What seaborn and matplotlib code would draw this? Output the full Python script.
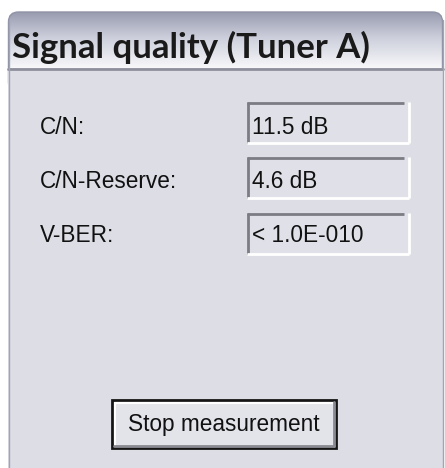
import matplotlib
matplotlib.use("Agg")
import matplotlib.pyplot as plt
import numpy as np
import seaborn as sns
from matplotlib.patches import Rectangle, FancyBboxPatch

sns.set_theme(style="white")
plt.rcParams['font.family'] = ['Liberation Sans', 'DejaVu Sans']

title = "Signal quality (Tuner A)"
labels = ["C/N:", "C/N-Reserve:", "V-BER:"]
values = ["11.5 dB", "4.6 dB", "< 1.0E-010"]
button_text = "Stop measurement"

W, H = 445, 468
fig = plt.figure(figsize=(W / 100, H / 100), dpi=100)
ax = fig.add_axes([0, 0, 1, 1])
ax.set_xlim(0, W)
ax.set_ylim(H, 0)
ax.axis("off")
fig.patch.set_facecolor("white")

body = "#dcdde5"

# title band with gradient, rounded top
grad = np.linspace(0, 1, 60)[:, None]
c_top = np.array([0.60, 0.61, 0.69])
c_mid = np.array([0.80, 0.81, 0.86])
c_bot = np.array([0.97, 0.97, 0.98])
cols = np.where(grad[..., None] < 0.45,
                c_top + (c_mid - c_top) * (grad[..., None] / 0.45),
                c_mid + (c_bot - c_mid) * ((grad[..., None] - 0.45) / 0.55))
cols = np.repeat(cols, 2, axis=1)
im = ax.imshow(cols, extent=(8.5, 442.5, 68, 12), aspect="auto", zorder=1, interpolation="bilinear")
clip = FancyBboxPatch((8.5, 12), 434, 80, boxstyle="round,pad=0,rounding_size=10",
                      transform=ax.transData, facecolor="none", edgecolor="none")
ax.add_patch(clip)
im.set_clip_path(clip)
band = FancyBboxPatch((8.5, 12), 434, 80, boxstyle="round,pad=0,rounding_size=10",
                      facecolor="none", edgecolor="#8f93a6", lw=1.0, zorder=2)
ax.add_patch(band)

# panel body (covers lower part of band outline)
ax.add_patch(Rectangle((8, 68), 435, H - 68 + 2, facecolor=body, edgecolor="none", zorder=3))
ax.plot([8, 443], [68.5, 68.5], color="#8e8f9c", lw=2.0, zorder=4)
ax.plot([8.5, 8.5], [20, H], color="#a3a4b2", lw=1.0, zorder=4)
ax.plot([442.5, 442.5], [20, H], color="#a3a4b2", lw=1.0, zorder=4)

ax.text(12, 47, title, fontsize=25, fontweight="bold", family=["Lato", "DejaVu Sans"],
        color="#1a1a1a", va="center", ha="left", zorder=5)

label_y = [127, 181, 236]
box_top = [102, 157, 213]
box_h = 41
fs = 16.3
for lab, val, ly, bt in zip(labels, values, label_y, box_top):
    ax.text(40, ly, lab, fontsize=fs, color="#111111", va="center", ha="left", zorder=5)
    x0, x1 = 247, 409
    y0, y1 = bt, bt + box_h
    ax.add_patch(Rectangle((x0, y0), x1 - x0, y1 - y0, facecolor="#e0e1e8", edgecolor="none", zorder=4))
    ax.plot([x0, x1 - 5], [y0 + 1, y0 + 1], color="#7b7c84", lw=2.0, zorder=5, solid_capstyle="butt")
    ax.plot([x0 + 1, x0 + 1], [y0, y1], color="#7b7c84", lw=2.0, zorder=5, solid_capstyle="butt")
    ax.plot([x0, x1], [y1, y1], color="white", lw=2.0, zorder=5, solid_capstyle="butt")
    ax.plot([x1, x1], [y0, y1], color="white", lw=2.0, zorder=5, solid_capstyle="butt")
    ax.text(252, ly, val, fontsize=fs, color="#111111", va="center", ha="left", zorder=6)

# button
bx0, by0, bx1, by1 = 112, 400, 336, 448
ax.add_patch(Rectangle((bx0, by0), bx1 - bx0, by1 - by0, facecolor="#e3e4ea",
                       edgecolor="#151515", lw=2.0, zorder=4))
ax.plot([bx0 + 2.5, bx1 - 3], [by0 + 2.5, by0 + 2.5], color="white", lw=1.5, zorder=5)
ax.plot([bx0 + 2.5, bx0 + 2.5], [by0 + 2.5, by1 - 3], color="white", lw=1.5, zorder=5)
ax.plot([bx0 + 2, bx1 - 2.5], [by1 - 2.5, by1 - 2.5], color="#8a8a92", lw=2.0, zorder=5)
ax.plot([bx1 - 2.5, bx1 - 2.5], [by0 + 2, by1 - 2], color="#8a8a92", lw=2.0, zorder=5)
ax.text((bx0 + bx1) / 2, 424, button_text, fontsize=fs, color="#111111",
        va="center", ha="center", zorder=6)

fig.savefig("out.png", dpi=100, facecolor="white")
